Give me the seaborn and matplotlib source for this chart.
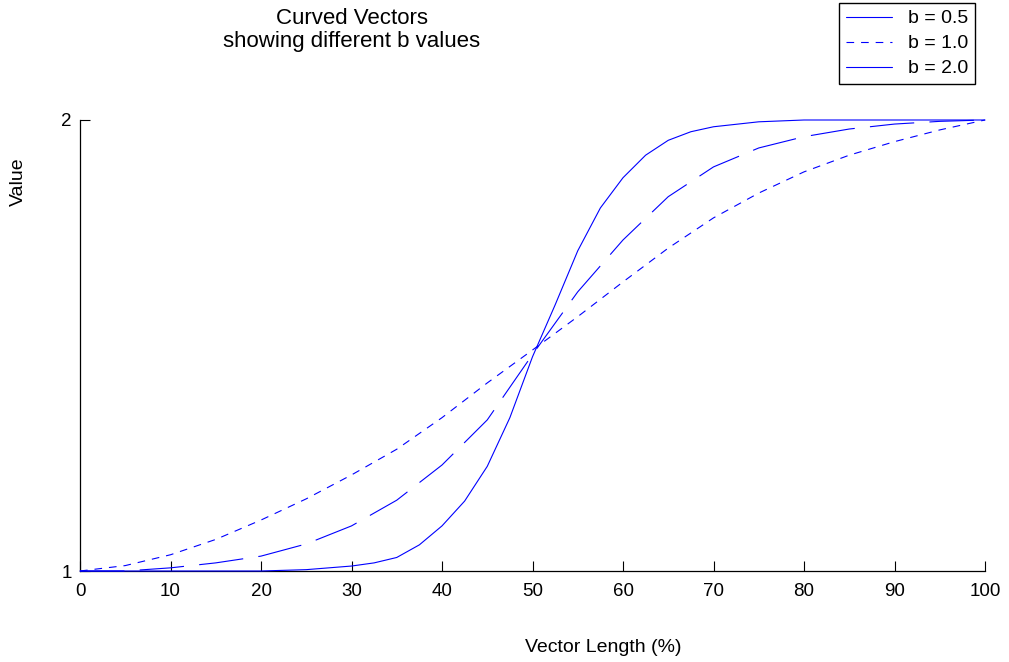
import matplotlib
matplotlib.use("Agg")
import matplotlib.pyplot as plt
import seaborn as sns
from matplotlib.lines import Line2D

# valores
x_pct = [0, 5, 10, 15, 20, 25, 30, 35, 40, 45, 50, 55, 60, 65, 70, 75, 80, 85, 90, 95, 100]
val_b05 = [1.0, 1.0, 1.007, 1.018, 1.033, 1.06, 1.10, 1.157, 1.235, 1.335, 1.48, 1.619, 1.734,
           1.83, 1.896, 1.938, 1.963, 1.98, 1.991, 1.997, 2.0]
val_b10 = [1.0, 1.012, 1.036, 1.07, 1.113, 1.16, 1.213, 1.27, 1.34, 1.417, 1.49, 1.564, 1.641,
           1.716, 1.783, 1.838, 1.885, 1.922, 1.952, 1.978, 2.0]

x_steep = [0, 5, 10, 15, 20, 25, 30, 32.5, 35, 37.5, 40, 42.5, 45, 47.5, 50, 52.5, 55, 57.5,
           60, 62.5, 65, 67.5, 70, 75, 80, 85, 90, 95, 100]
val_b20 = [1.0, 1.0, 1.0, 1.0, 1.0, 1.003, 1.011, 1.018, 1.03, 1.058, 1.1, 1.155, 1.232, 1.34,
           1.475, 1.59, 1.71, 1.805, 1.872, 1.922, 1.955, 1.974, 1.985, 1.996, 2.0, 2.0,
           2.0, 2.0, 2.0]

labels = ["b = 0.5", "b = 1.0", "b = 2.0"]
x_ticks = [0, 10, 20, 30, 40, 50, 60, 70, 80, 90, 100]

sns.set_style("ticks")
plt.rcParams["font.family"] = ["Liberation Sans", "DejaVu Sans"]
plt.rcParams["lines.scale_dashes"] = False
plt.rcParams["text.color"] = "black"
plt.rcParams["axes.edgecolor"] = "black"
plt.rcParams["xtick.color"] = "black"
plt.rcParams["ytick.color"] = "black"

blue = "#0000ff"
lw = 0.8
long_dash = (0, (32, 11))
short_dash = (0, (5.5, 5))

fig = plt.figure(figsize=(10.09, 6.62), dpi=100)
ax = fig.add_axes([80 / 1009, 1 - 571 / 662, 905 / 1009, 451 / 662])

sns.lineplot(x=x_pct, y=val_b05, ax=ax, color=blue, linewidth=lw, linestyle=long_dash,
             estimator=None, sort=False, clip_on=False, zorder=3)
sns.lineplot(x=x_pct, y=val_b10, ax=ax, color=blue, linewidth=lw, linestyle=short_dash,
             estimator=None, sort=False, clip_on=False, zorder=3)
sns.lineplot(x=x_steep, y=val_b20, ax=ax, color=blue, linewidth=lw, linestyle="-",
             estimator=None, sort=False, clip_on=False, zorder=3)

ax.set_xlim(0, 100)
ax.set_ylim(1, 2)
ax.set_xticks(x_ticks)
ax.set_yticks([1, 2])
ax.tick_params(direction="in", length=7, width=0.8, labelsize=13.5, labelcolor="black")
ax.tick_params(axis="x", pad=9)
ax.tick_params(axis="y", pad=6)
sns.despine(ax=ax)
for s in ("left", "bottom"):
    ax.spines[s].set_linewidth(0.9)
ax.set_xlabel("")
ax.set_ylabel("")

# titulo y etiquetas en coordenadas de figura
fig.text(352 / 1009, 1 - 8 / 662, "Curved Vectors\nshowing different b values",
         ha="center", va="top", fontsize=16, linespacing=1.15, color="black")
fig.text(603 / 1009, 1 - 648 / 662, "Vector Length (%)", ha="center", va="center",
         fontsize=14, color="black")
fig.text(18 / 1009, 1 - 182 / 662, "Value", ha="center", va="center", rotation=90,
         fontsize=14, color="black")

handles = [
    Line2D([], [], color=blue, linewidth=lw, linestyle="-"),
    Line2D([], [], color=blue, linewidth=lw, linestyle=short_dash),
    Line2D([], [], color=blue, linewidth=lw, linestyle="-"),
]
leg = ax.legend(handles, labels, loc="upper right", bbox_to_anchor=(975 / 1009, 1 - 3 / 662),
                bbox_transform=fig.transFigure, borderaxespad=0, fontsize=14,
                fancybox=False, framealpha=1, edgecolor="black", handlelength=2.4,
                handletextpad=0.8, labelspacing=0.38, borderpad=0.35)
leg.get_frame().set_linewidth(1.0)
for t in leg.get_texts():
    t.set_color("black")

fig.savefig("out.png", dpi=100)
